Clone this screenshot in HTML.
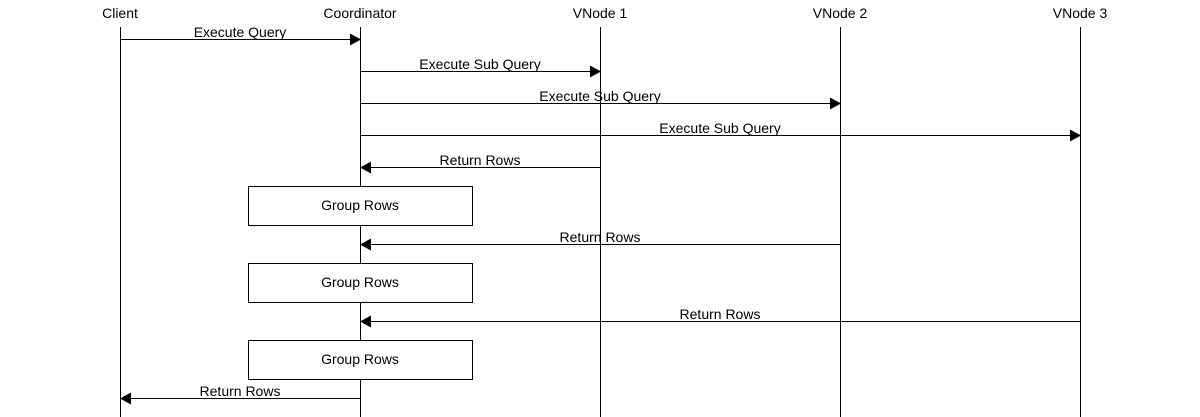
<!DOCTYPE html>
<html><head><meta charset="utf-8"><style>body{margin:0;background:#fff}svg{display:block}text{font-family:"Liberation Sans",sans-serif;font-size:14px;fill:#000}</style></head><body>
<svg width="1200" height="417" viewBox="0 0 1200 417">
<g text-anchor="middle">
<text x="120" y="18">Client</text><text x="360" y="18">Coordinator</text><text x="600" y="18">VNode 1</text><text x="840" y="18">VNode 2</text><text x="1080" y="18">VNode 3</text>
</g>
<g stroke="#000" stroke-width="1">
<line x1="120.5" y1="27" x2="120.5" y2="417"/><line x1="360.5" y1="27" x2="360.5" y2="417"/><line x1="600.5" y1="27" x2="600.5" y2="417"/><line x1="840.5" y1="27" x2="840.5" y2="417"/><line x1="1080.5" y1="27" x2="1080.5" y2="417"/>
<line x1="120" y1="39.5" x2="352" y2="39.5"/>
<line x1="360" y1="71.5" x2="592" y2="71.5"/>
<line x1="360" y1="103.5" x2="832" y2="103.5"/>
<line x1="360" y1="135.5" x2="1072" y2="135.5"/>
<line x1="600" y1="167.5" x2="368" y2="167.5"/>
<line x1="840" y1="244.5" x2="368" y2="244.5"/>
<line x1="1080" y1="321.5" x2="368" y2="321.5"/>
<line x1="360" y1="398.5" x2="128" y2="398.5"/>
</g>
<g fill="#000">
<polygon points="350,33.5 361,39.5 350,45.5"/>
<polygon points="590,65.5 601,71.5 590,77.5"/>
<polygon points="830,97.5 841,103.5 830,109.5"/>
<polygon points="1070,129.5 1081,135.5 1070,141.5"/>
<polygon points="371,161.5 360,167.5 371,173.5"/>
<polygon points="371,238.5 360,244.5 371,250.5"/>
<polygon points="371,315.5 360,321.5 371,327.5"/>
<polygon points="131,392.5 120,398.5 131,404.5"/>
</g>
<g fill="#fff" stroke="#000">
<rect x="248.5" y="186.5" width="224" height="39"/>
<rect x="248.5" y="263.5" width="224" height="39"/>
<rect x="248.5" y="340.5" width="224" height="39"/>
</g>
<g text-anchor="middle">
<text x="240" y="37">Execute Query</text>
<text x="480" y="69">Execute Sub Query</text>
<text x="600" y="101">Execute Sub Query</text>
<text x="720" y="133">Execute Sub Query</text>
<text x="480" y="165">Return Rows</text>
<text x="360" y="210">Group Rows</text>
<text x="600" y="242">Return Rows</text>
<text x="360" y="287">Group Rows</text>
<text x="720" y="319">Return Rows</text>
<text x="360" y="364">Group Rows</text>
<text x="240" y="396">Return Rows</text>
</g>
</svg>
</body></html>
